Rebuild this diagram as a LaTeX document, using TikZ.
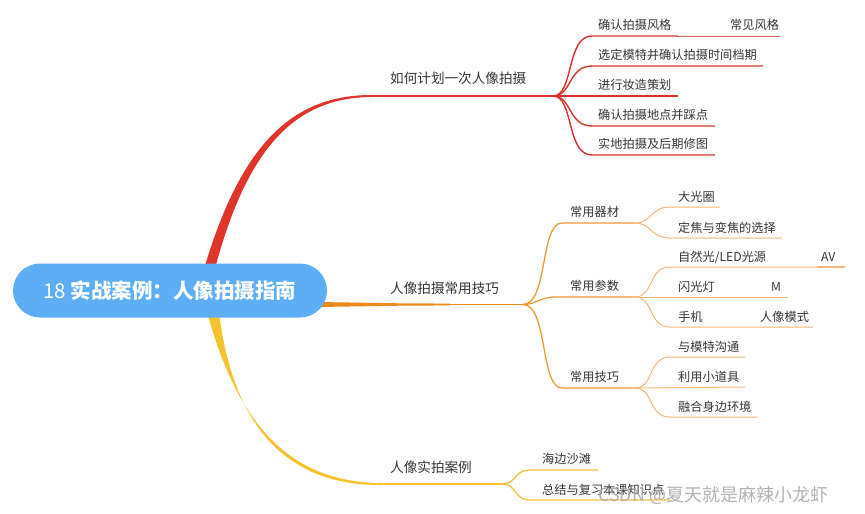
\documentclass[tikz,border=0pt]{standalone}
\usepackage{fontspec}
\setmainfont{Noto Sans CJK SC}
\definecolor{cred}{HTML}{E0342C}
\definecolor{credsub}{HTML}{D9332E}
\definecolor{corange}{HTML}{EE8A1C}
\definecolor{corsub}{HTML}{EF9B35}
\definecolor{corsub2}{HTML}{F3B87A}
\definecolor{cyellow}{HTML}{F7C22E}
\definecolor{cyelsub}{HTML}{F2C23A}
\definecolor{croot}{HTML}{5EAEF6}
\definecolor{txt}{HTML}{363636}
\tikzset{
  rootbox/.style={fill=croot, rounded corners=27pt, minimum width=314pt, minimum height=54pt, text=white, inner sep=0pt, font=\fontsize{20.5}{24}\selectfont},
  mainlbl/.style={font=\fontsize{13.6}{16}\selectfont, text=txt, inner sep=0pt, anchor=west},
  lbl/.style={font=\fontsize{12.2}{14}\selectfont, text=txt, inner sep=0pt, anchor=west},
  redsub/.style={draw=credsub, line width=1.4pt},
  redsub2/.style={draw=credsub!80, line width=1pt},
  orsub/.style={draw=corsub, line width=1.3pt},
  orsub2/.style={draw=corsub2, line width=1pt},
  yelsub/.style={draw=cyelsub, line width=1.3pt},
  wmark/.style={font=\fontsize{18}{20}\selectfont, text=gray!70, opacity=0.85, inner sep=0pt, anchor=west}
}
\begin{document}
\begin{tikzpicture}[x=1pt,y=-1pt]
\useasboundingbox (0,0) rectangle (865,514);
\fill[white] (0,0) rectangle (865,514);

% ---- main branches (behind root) ----
\coordinate (J1) at (553,96);
\coordinate (J2) at (523,304.5);
\coordinate (J4) at (503,484);
\fill[cred] (202,276) .. controls (238,150) and (288,94.8) .. (372,95) -- (372,97) .. controls (292,97.3) and (245,152) .. (213,276) -- cycle;
\draw[cred, line width=1.8pt] (370,96) -- (J1);

\fill[corange] (318,302) -- (400,303.3) -- (450,303.6) -- (450,305.4) -- (400,305.7) -- (318,307) -- cycle;
\draw[corange, line width=1.8pt] (448,304.5) -- (J2);

\fill[cyellow] (207,312) .. controls (238,425) and (290,482.8) .. (382,483) -- (382,485) .. controls (288,486) and (233,428) .. (219,312) -- cycle;
\draw[cyellow, line width=1.8pt] (380,484) -- (J4);

% ---- root ----
\node[rootbox] (root) at (170,290.5) {18 \textbf{实战案例：人像拍摄指南}};

% ---- main labels ----
\node[mainlbl] (m1) at (390,78) {如何计划一次人像拍摄};
\node[mainlbl] (m2) at (390,288) {人像拍摄常用技巧};
\node[mainlbl] (m3) at (390,467) {人像实拍案例};

% ---- red sub-branches ----
\coordinate (r1e) at (678,36);
\coordinate (r1f) at (780,36);
\coordinate (r2e) at (763,66);
\coordinate (r3e) at (678,96);
\coordinate (r4e) at (715,126);
\coordinate (r5e) at (715,155);
\draw[redsub] (J1) .. controls (574,96) and (566,36) .. (592,36) -- (r1e);
\draw[redsub2] (r1e) -- (r1f);
\draw[redsub] (J1) .. controls (572,96) and (568,66) .. (592,66) -- (r2e);
\draw[redsub] (J1) -- (r3e);
\draw[redsub] (J1) .. controls (572,96) and (568,126) .. (592,126) -- (r4e);
\draw[redsub] (J1) .. controls (574,96) and (566,155) .. (592,155) -- (r5e);
\node[lbl] (r1) at (598,25) {确认拍摄风格};
\node[lbl] (r1a) at (730,25) {常见风格};
\node[lbl] (r2) at (598,55) {选定模特并确认拍摄时间档期};
\node[lbl] (r3) at (598,85) {进行妆造策划};
\node[lbl] (r4) at (598,115) {确认拍摄地点并踩点};
\node[lbl] (r5) at (598,144) {实地拍摄及后期修图};

% ---- orange sub-branches ----
\coordinate (K1) at (635,223);
\coordinate (K2) at (635,297);
\coordinate (K3) at (635,388);
\draw[orsub] (J2) .. controls (548,304.5) and (540,223) .. (562,223) -- (K1);
\draw[orsub] (J2) .. controls (536,304.5) and (540,297) .. (556,297) -- (K2);
\draw[orsub] (J2) .. controls (548,304.5) and (540,388) .. (562,388) -- (K3);
\node[lbl] (o1) at (570,212) {常用器材};
\node[lbl] (o2) at (570,286) {常用参数};
\node[lbl] (o3) at (570,377) {常用技巧};

% second level
\coordinate (a1e) at (720,207);
\coordinate (a2e) at (782,238);
\coordinate (b1e) at (817,267);
\coordinate (b1f) at (845,267);
\coordinate (b2e) at (788,297);
\coordinate (b3e) at (813,327);
\coordinate (c1e) at (745,357);
\coordinate (c2e) at (745,387);
\coordinate (c3e) at (757,417);
\draw[orsub2] (K1) .. controls (652,223) and (650,207) .. (670,207) -- (a1e);
\draw[orsub2] (K1) .. controls (652,223) and (650,238) .. (670,238) -- (a2e);
\draw[orsub2] (K2) .. controls (654,297) and (648,267) .. (670,267) -- (b1e);
\draw[orsub2, line width=1.2pt] (b1e) -- (b1f);
\draw[orsub2] (K2) -- (b2e);
\draw[orsub2] (K2) .. controls (654,297) and (648,327) .. (670,327) -- (b3e);
\draw[orsub2] (K3) .. controls (654,388) and (648,357) .. (670,357) -- (c1e);
\draw[orsub2] (K3) -- (c2e);
\draw[orsub2] (K3) .. controls (654,388) and (648,417) .. (670,417) -- (c3e);
\node[lbl] (a1) at (678,197) {大光圈};
\node[lbl] (a2) at (678,228) {定焦与变焦的选择};
\node[lbl] (b1) at (678,257) {自然光/LED光源};
\node[lbl] (b1a) at (821,257) {AV};
\node[lbl] (b2) at (678,287) {闪光灯};
\node[lbl] (b2a) at (771,287) {M};
\node[lbl] (b3) at (678,317) {手机};
\node[lbl] (b3a) at (760,317) {人像模式};
\node[lbl] (c1) at (678,347) {与模特沟通};
\node[lbl] (c2) at (678,377) {利用小道具};
\node[lbl] (c3) at (678,407) {融合身边环境};

% ---- yellow sub-branches ----
\coordinate (y1e) at (598,470);
\coordinate (y2e) at (670,500);
\draw[yelsub] (J4) .. controls (516,484) and (514,470) .. (530,470) -- (y1e);
\draw[yelsub] (J4) .. controls (516,484) and (514,500) .. (530,500) -- (y2e);
\node[lbl] (y1) at (542,459) {海边沙滩};
\node[lbl] (y2) at (542,490) {总结与复习本课知识点};

% ---- watermark ----
\node[wmark] (wm) at (598,495) {CSDN @夏天就是麻辣小龙虾};
\end{tikzpicture}
\end{document}
